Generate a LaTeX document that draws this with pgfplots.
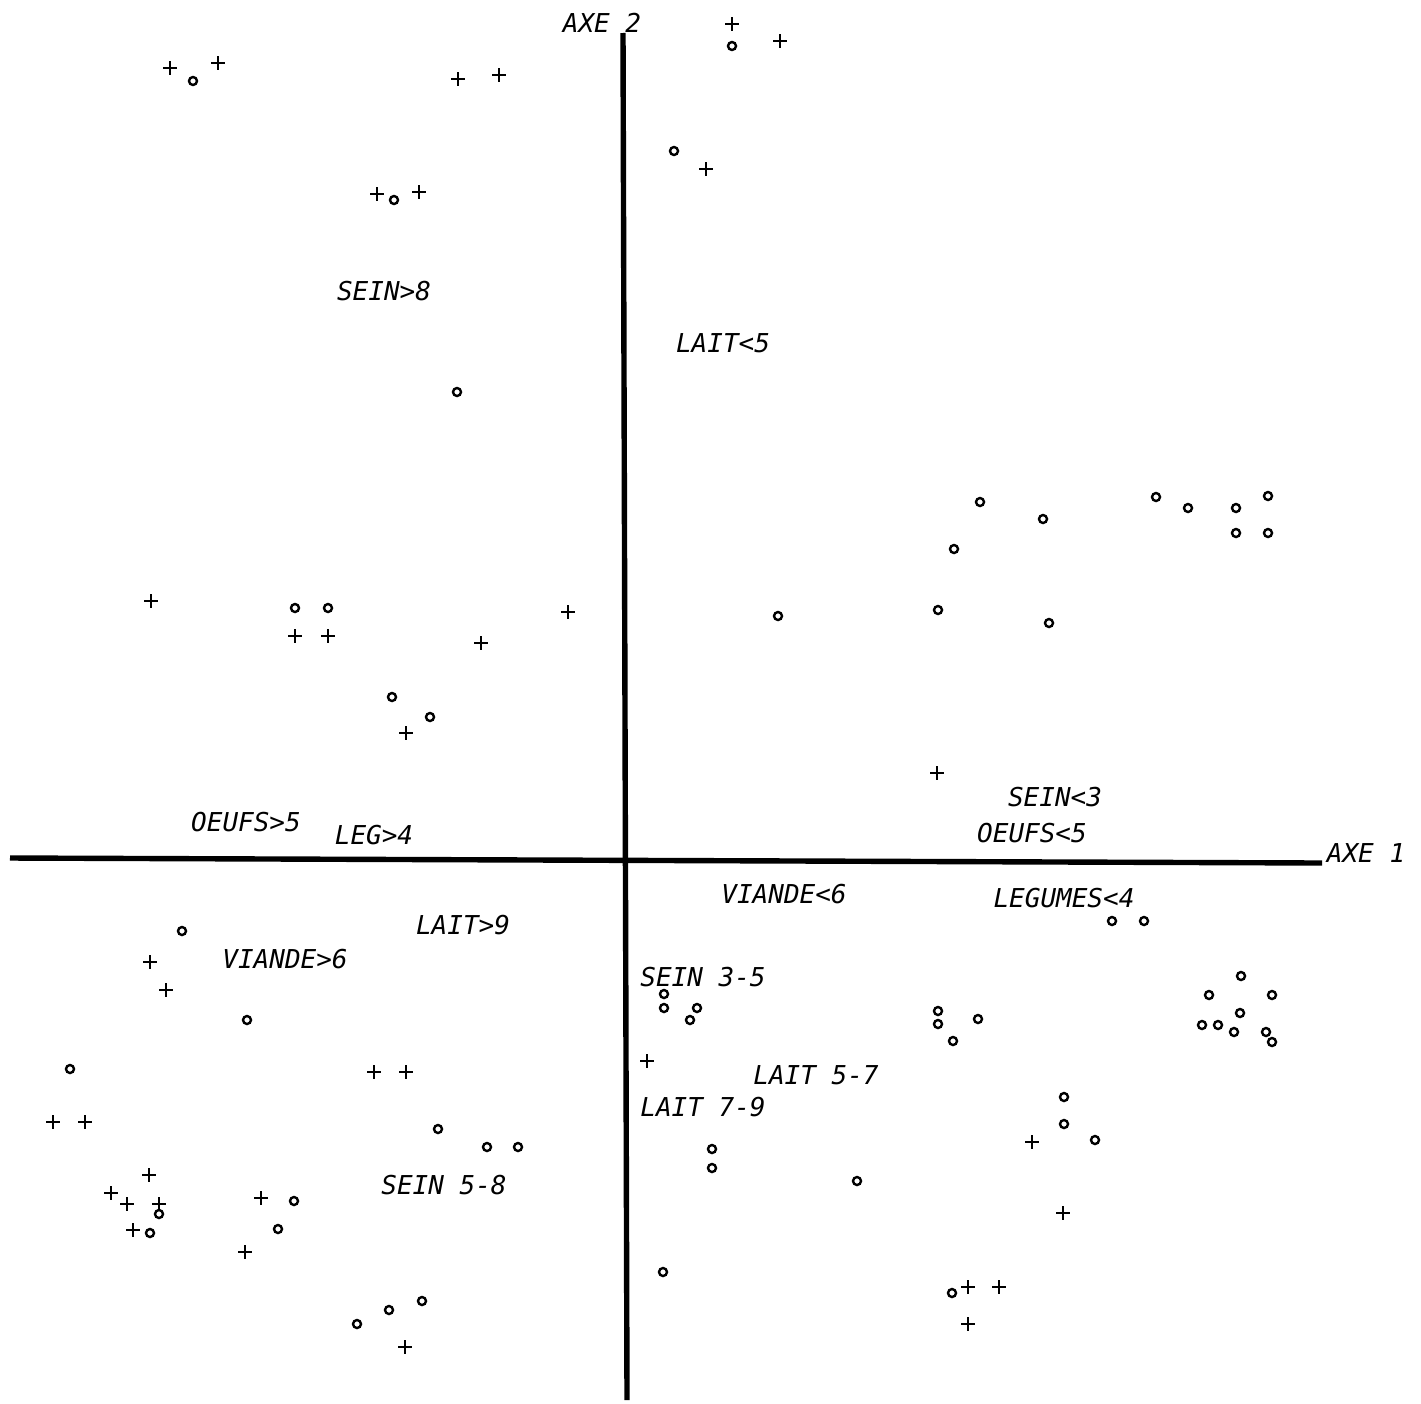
\documentclass[border=0pt]{standalone}
\usepackage{fontspec}
\setmonofont{DejaVu Sans Mono}
\usepackage{pgfplots}
\pgfplotsset{compat=1.18}
\begin{document}
\begin{tikzpicture}[lbl/.style={font=\ttfamily\itshape\fontsize{6.5pt}{7pt}\selectfont, inner sep=0pt, anchor=center}]
\begin{axis}[
  scale only axis, width=355.25pt, height=350.75pt,
  xmin=0, xmax=1421, ymin=0, ymax=1403, y dir=reverse,
  hide axis, clip=false,
]
\addplot[draw=none, forget plot] coordinates {(0,0) (1421,1403)};
% axes
\addplot[black, line width=1.35pt] coordinates {(10,858) (1322,863)};
\addplot[black, line width=1.35pt] coordinates {(623,33) (627,1400)};
% plus markers
\addplot[only marks, black, mark=+, mark size=1.7pt, mark options={line width=0.72pt}] table {
x y
170 68
218 63
458 79
499 75
377 194
419 192
732 24
780 41
706 169
151 601
295 636
328 636
568 612
481 643
406 733
937 773
150 962
166 990
374 1072
406 1072
53 1122
85 1122
149 1175
111 1193
127 1204
159 1204
133 1230
261 1198
245 1252
405 1347
647 1061
1032 1142
1063 1213
968 1287
999 1287
968 1324
};
% circle markers
\addplot[only marks, black, mark=o, mark size=1.0pt, mark options={line width=0.6pt}] table {
x y
193 81
394 200
457 392
732 46
674 151
295 608
328 608
392 697
430 717
778 616
938 610
980 502
1043 519
954 549
1156 497
1188 508
1236 508
1268 496
1236 533
1268 533
1049 623
182 931
247 1020
70 1069
438 1129
487 1147
518 1147
159 1214
150 1233
294 1201
278 1229
357 1324
389 1310
422 1301
1112 921
1144 921
664 994
664 1008
697 1008
690 1020
938 1011
938 1024
978 1019
953 1041
1241 976
1209 995
1272 995
1240 1013
1202 1025
1218 1025
1234 1032
1266 1032
1272 1042
1064 1097
1064 1124
1095 1140
712 1149
712 1168
857 1181
663 1272
952 1293
};
% labels
\node[lbl] at (axis cs:602,23) {AXE 2};
\node[lbl] at (axis cs:1366,853) {AXE 1};
\node[lbl] at (axis cs:384,291) {SEIN>8};
\node[lbl] at (axis cs:723,343) {LAIT<5};
\node[lbl] at (axis cs:246,822) {OEUFS>5};
\node[lbl] at (axis cs:374,835) {LEG>4};
\node[lbl] at (axis cs:1055,797) {SEIN<3};
\node[lbl] at (axis cs:1032,833) {OEUFS<5};
\node[lbl] at (axis cs:784,894) {VIANDE<6};
\node[lbl] at (axis cs:1064,898) {LEGUMES<4};
\node[lbl] at (axis cs:463,925) {LAIT>9};
\node[lbl] at (axis cs:285,959) {VIANDE>6};
\node[lbl] at (axis cs:703,977) {SEIN 3-5};
\node[lbl] at (axis cs:816,1075) {LAIT 5-7};
\node[lbl] at (axis cs:703,1107) {LAIT 7-9};
\node[lbl] at (axis cs:444,1185) {SEIN 5-8};
\end{axis}
\end{tikzpicture}
\end{document}
